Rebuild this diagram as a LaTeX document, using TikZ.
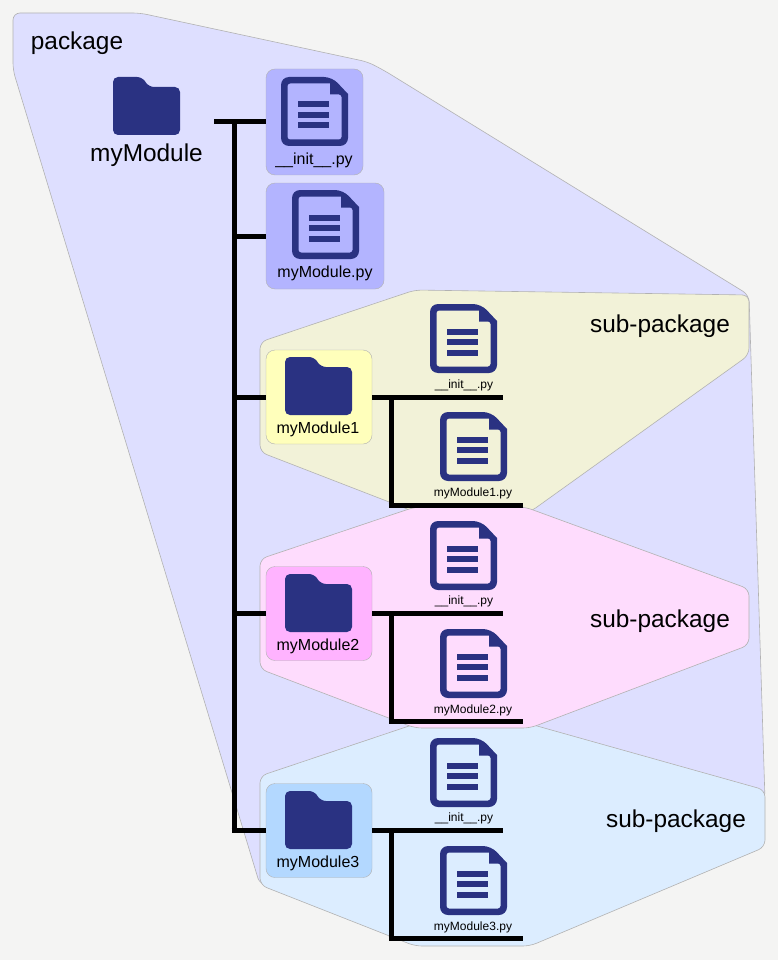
\documentclass[tikz,border=0pt]{standalone}
\usepackage{fontspec}
\setmainfont{Liberation Sans}
\usetikzlibrary{positioning}

\definecolor{paper}{HTML}{F4F4F3}
\definecolor{icon}{HTML}{2A3282}
\definecolor{package area}{HTML}{DEDFFF}
\definecolor{package box}{HTML}{B3B4FF}
\definecolor{yellow area}{HTML}{F2F2D8}
\definecolor{yellow box}{HTML}{FFFFBB}
\definecolor{pink area}{HTML}{FEDCFD}
\definecolor{pink box}{HTML}{FFB3FF}
\definecolor{blue area}{HTML}{DCEDFF}
\definecolor{blue box}{HTML}{B3D8FF}
\colorlet{area edge}{black!30}

\def\packagearea{(13,13) -- (140,13) -- (368,62) -- (385,71) -- (749,295) -- (765,800) -- (700,860) -- (260,885) -- (13,70) -- cycle}
\def\yellowarea{(260,342) -- (415,290) -- (749,295) -- (749,355) -- (530,512) -- (415,512) -- (260,452) -- cycle}
\def\pinkarea{(260,559) -- (415,507) -- (525,507) -- (749,589) -- (749,645) -- (530,728) -- (415,728) -- (260,669) -- cycle}
\def\bluearea{(260,776) -- (415,724) -- (530,724) -- (765,790) -- (765,847) -- (530,946) -- (415,946) -- (260,885) -- cycle}

\tikzset{
  area/.style={draw=area edge, line width=0.6pt, rounded corners=7pt},
  fileicon/.pic={
    \fill[icon, even odd rule, rounded corners=8pt]
      (0,30) -- (0,0) -- (51,0) [sharp corners] -- (67,17) [rounded corners=8pt] -- (67,69) -- (0,69) -- cycle
      [rounded corners=2.5pt] (6.5,30) -- (6.5,62.5) -- (60.5,62.5) -- (60.5,17.5) [sharp corners] -- (49,17.5) -- (49,6.5) [rounded corners=2.5pt] -- (6.5,6.5) -- cycle;
    \fill[icon] (17,24.5) rectangle (48,30.5);
    \fill[icon] (17,35) rectangle (48,41);
    \fill[icon] (17,45.5) rectangle (48,51.5);
  },
  foldericon/.pic={
    \fill[icon, rounded corners=5pt]
      (0,58) -- (0,0) -- (29,0) -- (36,10) -- (67,10) -- (67,58) -- cycle;
  }
}
\tikzstyle{edge} = [draw, line width=5pt, line cap=butt]
\tikzstyle{modbox} = [draw=area edge, line width=0.4pt, rounded corners=9pt, inner sep=0pt]
\tikzstyle{biglabel} = [anchor=base, inner sep=0pt, font=\fontsize{24.4}{28}\selectfont]
\tikzstyle{midlabel} = [anchor=base, inner sep=0pt, font=\fontsize{16}{19}\selectfont]
\tikzstyle{smalllabel} = [anchor=base, inner sep=0pt, font=\fontsize{12}{14}\selectfont]

\begin{document}
\begin{tikzpicture}[x=1pt,y=-1pt]
   \useasboundingbox[fill=paper] (0,0) rectangle (778,960);

   \path[area, fill=package area] \packagearea;
   \path[area, fill=blue area] \bluearea;
   \path[area, fill=yellow area] \yellowarea;
   % Pink goes last, it lies over both neighbours
   \path[area, fill=pink area] \pinkarea;

   \node[biglabel] (package) at (77,50) {package};
   \node[biglabel] (subA) at (660,332) {sub-package};
   \node[biglabel] (subB) at (660,627) {sub-package};
   \node[biglabel] (subC) at (676,827) {sub-package};

   \node[modbox, fill=package box, minimum width=97pt, minimum height=106pt] (initbox) at (314.5,122) {};
   \node[modbox, fill=package box, minimum width=118pt, minimum height=106pt] (modbox) at (325,236) {};
   \node[modbox, fill=yellow box, minimum width=106pt, minimum height=94pt] (modA) at (319,397) {};
   \node[modbox, fill=pink box, minimum width=106pt, minimum height=94pt] (modB) at (319,613.5) {};
   \node[modbox, fill=blue box, minimum width=106pt, minimum height=94pt] (modC) at (319,830.5) {};

   % Top level tree
   \coordinate (rootout) at (214,122);
   \coordinate (trunktop) at (234,122);
   \coordinate (trunkmod) at (234,236);
   \coordinate (trunkA) at (234,397);
   \coordinate (trunkB) at (234,613.5);
   \coordinate (trunkC) at (234,830.5);
   \path[edge] (rootout) -- (initbox.west);
   \path[edge] (trunkmod) -- (modbox.west);
   \path[edge] (trunkA) -- (modA.west);
   \path[edge] (trunkB) -- (modB.west);
   \path[edge] ([xshift=-2.5pt]trunkC) -- (modC.west);
   \path[edge] ([yshift=-2.5pt]trunktop) -- ([yshift=2.5pt]trunkC);

   % One branch for each sub-package
   \coordinate (initendA) at (503,397);
   \coordinate (forkA) at (391,397);
   \coordinate (cornerA) at (391,505);
   \coordinate (fileendA) at (523,505);
   \path[edge] (modA.east) -- (initendA);
   \path[edge] (forkA) -- ([yshift=2.5pt]cornerA);
   \path[edge] ([xshift=-2.5pt]cornerA) -- (fileendA);

   \coordinate (initendB) at (503,613.5);
   \coordinate (forkB) at (391,613.5);
   \coordinate (cornerB) at (391,721.5);
   \coordinate (fileendB) at (523,721.5);
   \path[edge] (modB.east) -- (initendB);
   \path[edge] (forkB) -- ([yshift=2.5pt]cornerB);
   \path[edge] ([xshift=-2.5pt]cornerB) -- (fileendB);

   \coordinate (initendC) at (503,830.5);
   \coordinate (forkC) at (391,830.5);
   \coordinate (cornerC) at (391,938.5);
   \coordinate (fileendC) at (523,938.5);
   \path[edge] (modC.east) -- (initendC);
   \path[edge] (forkC) -- ([yshift=2.5pt]cornerC);
   \path[edge] ([xshift=-2.5pt]cornerC) -- (fileendC);

   \pic at (113,77) {foldericon};
   \pic at (285,357) {foldericon};
   \pic at (285,574) {foldericon};
   \pic at (285,791) {foldericon};

   \pic at (281,77) {fileicon};
   \pic at (292,190) {fileicon};
   \pic at (430,304) {fileicon};
   \pic at (440,412) {fileicon};
   \pic at (430,521) {fileicon};
   \pic at (440,629) {fileicon};
   \pic at (430,738) {fileicon};
   \pic at (440,846) {fileicon};

   \node[biglabel] (rootname) at (146.5,161) {myModule};
   \node[midlabel] (initname) at (314,164.5) {\_\_init\_\_.py};
   \node[midlabel] (modname) at (325,277.5) {myModule.py};
   \node[midlabel] (nameA) at (318,433) {myModule1};
   \node[midlabel] (nameB) at (318,650) {myModule2};
   \node[midlabel] (nameC) at (318,867) {myModule3};

   \node[smalllabel] (initA) at (464,388) {\_\_init\_\_.py};
   \node[smalllabel] (fileA) at (473,496) {myModule1.py};
   \node[smalllabel] (initB) at (464,604.5) {\_\_init\_\_.py};
   \node[smalllabel] (fileB) at (473,713) {myModule2.py};
   \node[smalllabel] (initC) at (464,821.5) {\_\_init\_\_.py};
   \node[smalllabel] (fileC) at (473,930) {myModule3.py};
\end{tikzpicture}
\end{document}
